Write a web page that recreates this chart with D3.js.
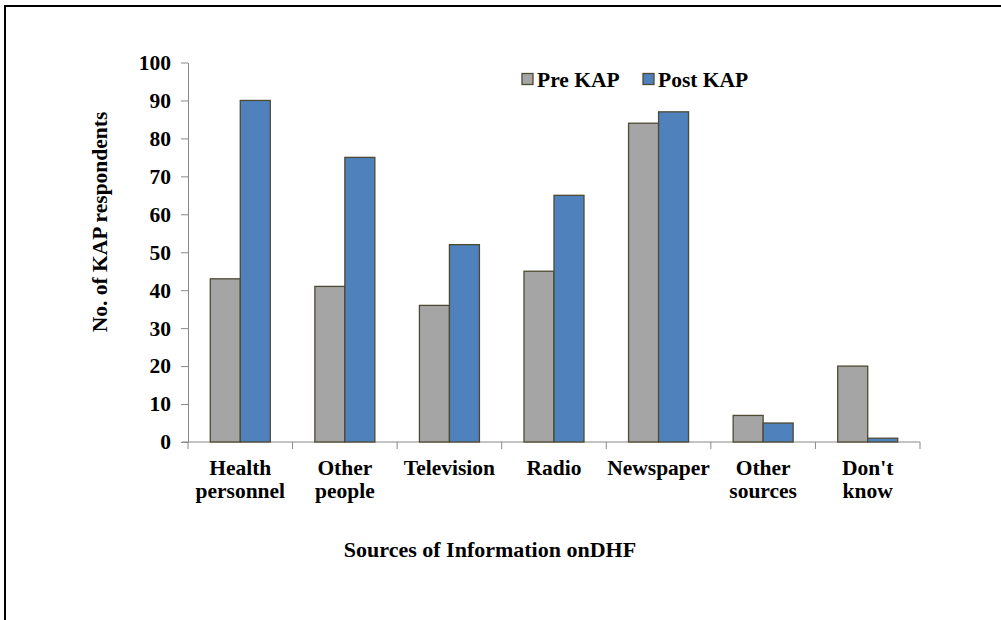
<!DOCTYPE html>
<html><head><meta charset="utf-8">
<script src="https://cdn.jsdelivr.net/npm/d3@7"></script>
<style>body{margin:0;background:#fff}svg{display:block}text{font-family:"Liberation Serif","Times New Roman",serif;font-weight:bold;fill:#000}</style>
</head><body><svg id="c" width="1001" height="620"></svg>
<script>
const categories = [["Health","personnel"],["Other","people"],["Television"],["Radio"],["Newspaper"],["Other","sources"],["Don't","know"]];
const seriesNames = ["Pre KAP","Post KAP"];
const preKAP = [43,41,36,45,84,7,20];
const postKAP = [90,75,52,65,87,5,1];
const yTicks = [0,10,20,30,40,50,60,70,80,90,100];
const colors = ["#A5A5A5","#4F81BD"];

const svg = d3.select("#c");
svg.append("rect").attr("x",5).attr("y",6).attr("width",1200).attr("height",800)
  .attr("fill","none").attr("stroke","#000").attr("stroke-width",2);

const L=188,R=920,T=62.5,B=442;
const x = d3.scaleBand().domain(d3.range(categories.length)).range([L,R]).paddingInner(0).paddingOuter(0);
const y = d3.scaleLinear().domain([0,100]).range([B,T]);
const bw = 30;

// y axis
const ya = svg.append("g").attr("transform",`translate(${L},0)`)
  .call(d3.axisLeft(y).tickValues(yTicks).tickSize(7).tickSizeOuter(0).tickPadding(10));
ya.select(".domain").attr("stroke","#888");
ya.selectAll(".tick line").attr("stroke","#888");
ya.selectAll(".tick text").attr("font-size",21.5).attr("font-family","Liberation Serif").attr("font-weight","bold").attr("fill","#000");

// x axis line & ticks
svg.append("line").attr("x1",L-6).attr("x2",R).attr("y1",B).attr("y2",B).attr("stroke","#888");
const bounds = d3.range(categories.length+1).map(i=> i<categories.length ? x(i) : R);
svg.selectAll(".xt").data(bounds).join("line").attr("x1",d=>d).attr("x2",d=>d)
  .attr("y1",B).attr("y2",B+7).attr("stroke","#888");

const data = [preKAP,postKAP];
data.forEach((vals,s)=>{
  svg.selectAll(".b"+s).data(vals).join("rect")
    .attr("x",(d,i)=>x(i)+x.bandwidth()/2-bw+s*bw)
    .attr("y",d=>y(d)).attr("width",bw).attr("height",d=>B-y(d))
    .attr("fill",colors[s]).attr("stroke","#4D4A33").attr("stroke-width",1.3);
});

// category labels
categories.forEach((lines,i)=>{
  const t = svg.append("text").attr("x",x(i)+x.bandwidth()/2).attr("y",475)
    .attr("text-anchor","middle").attr("font-size",21.5);
  lines.forEach((ln,j)=>t.append("tspan").attr("x",x(i)+x.bandwidth()/2).attr("dy",j?22.5:0).text(ln));
});

// axis titles
svg.append("text").attr("x",490).attr("y",557).attr("text-anchor","middle").attr("font-size",22)
  .text("Sources of Information onDHF");
svg.append("text").attr("transform","translate(107,222) rotate(-90)").attr("text-anchor","middle")
  .attr("font-size",21.5).text("No. of KAP respondents");

// legend
const lx=[522,643];
seriesNames.forEach((n,i)=>{
  svg.append("rect").attr("x",lx[i]).attr("y",73.5).attr("width",11).attr("height",11)
    .attr("fill",colors[i]).attr("stroke","#4D4A33").attr("stroke-width",1.3);
  svg.append("text").attr("x",lx[i]+15).attr("y",87).attr("font-size",21.5).text(n);
});
</script></body></html>
